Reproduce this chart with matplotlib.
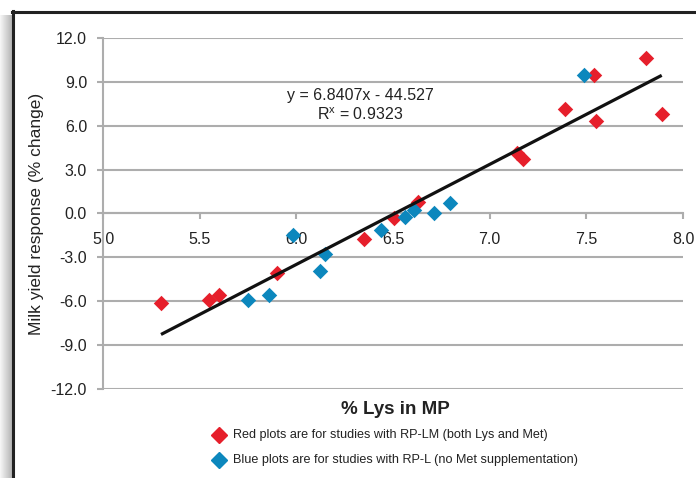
import matplotlib
matplotlib.use('Agg')
import matplotlib.pyplot as plt
from matplotlib.lines import Line2D
from matplotlib.patches import Rectangle
import numpy as np

plt.rcParams['font.family'] = ['Liberation Sans', 'DejaVu Sans']

# data
red_x = [5.30, 5.55, 5.60, 5.90, 6.35, 6.505, 6.63, 7.14, 7.17, 7.39, 7.54, 7.55, 7.81, 7.89]
red_y = [-6.1, -5.9, -5.6, -4.1, -1.76, -0.34, 0.8, 4.15, 3.75, 7.15, 9.5, 6.3, 10.6, 6.8]
blue_x = [5.75, 5.86, 5.985, 6.12, 6.15, 6.44, 6.56, 6.61, 6.71, 6.795, 7.49]
blue_y = [-5.93, -5.6, -1.48, -3.9, -2.8, -1.15, -0.27, 0.25, 0.05, 0.7, 9.5]
slope, intercept = 6.8407, -44.527
fit_x = [5.30, 7.89]
x_ticks = [5.0, 5.5, 6.0, 6.5, 7.0, 7.5, 8.0]
y_ticks = [12.0, 9.0, 6.0, 3.0, 0.0, -3.0, -6.0, -9.0, -12.0]

red = '#e61f2b'
blue = '#0c87bd'
grid_col = '#adadad'
txt = '#222222'

fig = plt.figure(figsize=(6.96, 4.78), dpi=100)
ax = fig.add_axes([0.148, 0.1862, 0.8333, 0.7343])

# frame with shadow on the left
for i in range(12):
    shade = 0.96 - 0.022 * i
    fig.add_artist(Rectangle((i / 696, 0), 1 / 696 + 0.0005, 1 - 15 / 478,
                             transform=fig.transFigure, color=str(shade), lw=0, zorder=0))
fig.add_artist(Line2D([13 / 696, 13 / 696], [0, 1 - 11 / 478], transform=fig.transFigure,
                      color='#222222', lw=2.2))
fig.add_artist(Line2D([12 / 696, 1], [1 - 12 / 478, 1 - 12 / 478], transform=fig.transFigure,
                      color='#222222', lw=2.2))

ax.set_xlim(5.0, 8.0)
ax.set_ylim(-12, 12)
ax.set_yticks(y_ticks)
ax.set_yticklabels([f'{v:.1f}' for v in y_ticks])
ax.set_xticks(x_ticks)
ax.set_xticklabels([f'{v:.1f}' for v in x_ticks])
ax.yaxis.grid(True, color=grid_col, lw=1.5)
ax.set_axisbelow(True)

for s in ['top', 'right']:
    ax.spines[s].set_visible(False)
ax.spines['left'].set_color(grid_col)
ax.spines['left'].set_linewidth(1.5)
ax.spines['bottom'].set_position(('data', 0))
ax.spines['bottom'].set_color(grid_col)
ax.spines['bottom'].set_linewidth(1.5)
ax.tick_params(axis='y', length=4.5, width=1.5, color=grid_col, pad=7, labelsize=11.5, labelcolor=txt)
ax.tick_params(axis='x', length=4.5, width=1.5, color=grid_col, pad=9, labelsize=11.5, labelcolor=txt)

ax.scatter(red_x, red_y, marker='D', s=62, color=red, lw=0, zorder=3)
ax.scatter(blue_x, blue_y, marker='D', s=62, color=blue, lw=0, zorder=3)
fy = [slope * v + intercept for v in fit_x]
ax.plot(fit_x, fy, color='#111111', lw=2.3, zorder=4, solid_capstyle='butt')

ax.text(6.33, 8.1, 'y = 6.8407x - 44.527', ha='center', va='center', fontsize=11.5, color=txt)
ax.text(6.33, 6.75, 'R$^{\\mathregular{x}}$ = 0.9323', ha='center', va='center', fontsize=11.5, color=txt)

ax.set_ylabel('Milk yield response (% change)', fontsize=12.5, color=txt)
ax.yaxis.set_label_coords(-0.1017, 0.5)

fig.text(395 / 696, 1 - 409 / 478, '% Lys in MP', ha='center', va='center', fontsize=13.5,
         fontweight='bold', color=txt)

leg_rows = [('Red plots are for studies with RP-LM (both Lys and Met)', red, 435),
            ('Blue plots are for studies with RP-L (no Met supplementation)', blue, 460)]
for label, col, py in leg_rows:
    fig.add_artist(Line2D([219 / 696], [1 - py / 478], marker='D', markersize=8,
                          color=col, lw=0, transform=fig.transFigure))
    fig.text(233 / 696, 1 - py / 478, label, ha='left', va='center', fontsize=9.1, color=txt)

fig.savefig('out.png', dpi=100)
